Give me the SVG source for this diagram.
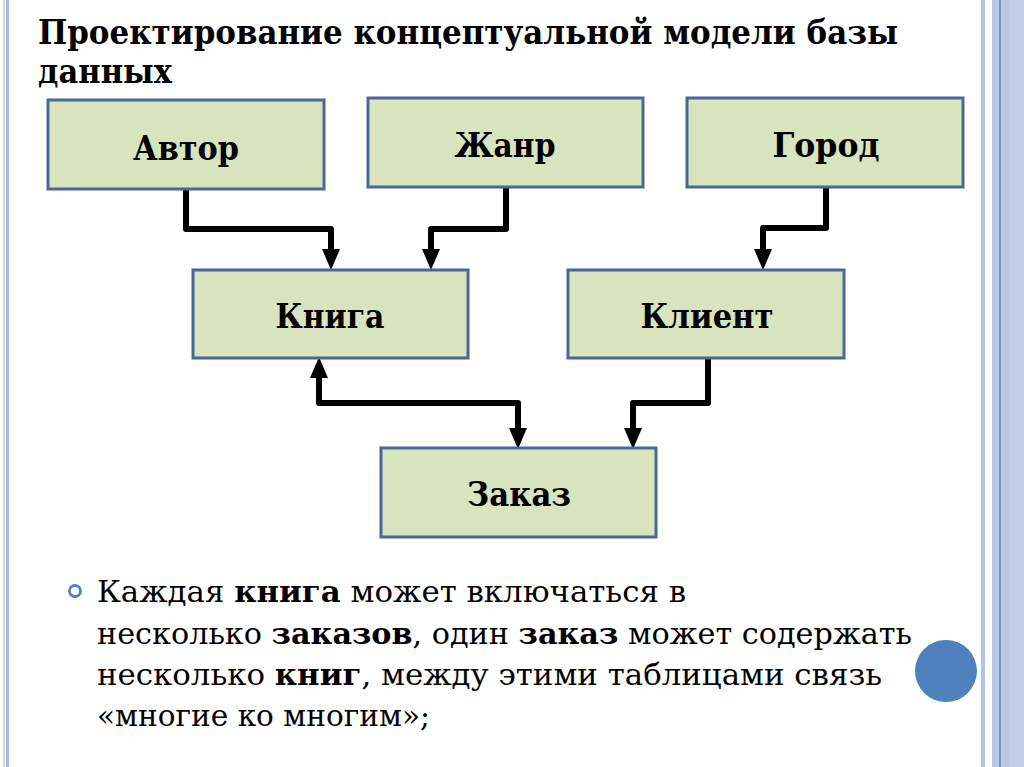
<svg xmlns="http://www.w3.org/2000/svg" width="1024" height="767" viewBox="0 0 1024 767">
<style>
.box{fill:#d7e4bd;stroke:#4a6894;stroke-width:3}
.lbl{font-family:"DejaVu Serif","Liberation Serif",serif;font-weight:bold;font-size:33px;fill:#000;text-anchor:middle}
.title{font-family:"DejaVu Serif","Liberation Serif",serif;font-weight:bold;font-size:33px;fill:#000}
.body{font-family:"DejaVu Serif","Liberation Serif",serif;font-size:30px;fill:#000}
.b{font-weight:bold}
.con{fill:none;stroke:#000;stroke-width:6;stroke-linejoin:round}
</style>
<defs>
<marker id="ah" markerUnits="userSpaceOnUse" markerWidth="22" markerHeight="20" viewBox="0 0 22 20" refX="10" refY="10" orient="auto-start-reverse">
<path d="M0,1 L21,10 L0,19 z" fill="#000"/>
</marker>
</defs>
<rect width="1024" height="767" fill="#fff"/>
<g id="borders">
<rect x="3" y="0" width="2" height="767" fill="#cdd4e3"/>
<rect x="6" y="0" width="3" height="767" fill="#a9b8dc"/>
<rect x="981" y="0" width="4" height="767" fill="#b4c3df"/>
<rect x="992" y="0" width="32" height="767" fill="#bac8e2"/>
<rect x="999" y="0" width="2" height="767" fill="#7d95c3"/>
<rect x="1009" y="0" width="15" height="767" fill="#c2cfe6"/>
</g>
<g id="title">
<text class="title" x="38" y="44" textLength="860" lengthAdjust="spacingAndGlyphs">Проектирование концептуальной модели базы</text>
<text class="title" x="38" y="83" textLength="134" lengthAdjust="spacingAndGlyphs">данных</text>
</g>
<g id="connectors">
<path class="con" d="M186,190 V229 H331 V259" marker-end="url(#ah)"/>
<path class="con" d="M506,187 V229 H431 V259" marker-end="url(#ah)"/>
<path class="con" d="M826,188 V228 H763 V259" marker-end="url(#ah)"/>
<path class="con" d="M319,368 V403 H518 V438" marker-start="url(#ah)" marker-end="url(#ah)"/>
<path class="con" d="M708,359 V403 H633 V438" marker-end="url(#ah)"/>
</g>
<g id="node-avtor">
<rect class="box" x="48" y="100" width="276" height="89"/>
<text class="lbl" x="186" y="160" textLength="106" lengthAdjust="spacingAndGlyphs">Автор</text>
</g>
<g id="node-zhanr">
<rect class="box" x="368" y="98" width="275" height="89"/>
<text class="lbl" x="505" y="157" textLength="101" lengthAdjust="spacingAndGlyphs">Жанр</text>
</g>
<g id="node-gorod">
<rect class="box" x="687" y="98" width="276" height="89"/>
<text class="lbl" x="826" y="157" textLength="107" lengthAdjust="spacingAndGlyphs">Город</text>
</g>
<g id="node-kniga">
<rect class="box" x="193" y="270" width="275" height="88"/>
<text class="lbl" x="330" y="328" textLength="109" lengthAdjust="spacingAndGlyphs">Книга</text>
</g>
<g id="node-klient">
<rect class="box" x="568" y="270" width="276" height="88"/>
<text class="lbl" x="707" y="328" textLength="133" lengthAdjust="spacingAndGlyphs">Клиент</text>
</g>
<g id="node-zakaz">
<rect class="box" x="381" y="448" width="275" height="89"/>
<text class="lbl" x="519" y="506" textLength="104" lengthAdjust="spacingAndGlyphs">Заказ</text>
</g>
<g id="bullet-text">
<circle cx="75" cy="591" r="5.5" fill="none" stroke="#4f81bd" stroke-width="2.8"/>
<text class="body" x="97" y="602" textLength="589" lengthAdjust="spacingAndGlyphs">Каждая <tspan class="b">книга</tspan> может включаться в</text>
<text class="body" x="97" y="644" textLength="815" lengthAdjust="spacingAndGlyphs">несколько <tspan class="b">заказов</tspan>, один <tspan class="b">заказ</tspan> может содержать</text>
<text class="body" x="97" y="685" textLength="785" lengthAdjust="spacingAndGlyphs">несколько <tspan class="b">книг</tspan>, между этими таблицами связь</text>
<text class="body" x="97" y="726" textLength="333" lengthAdjust="spacingAndGlyphs">«многие ко многим»;</text>
</g>
<circle id="deco-circle" cx="946" cy="671" r="31" fill="#4f81bd"/>
</svg>
